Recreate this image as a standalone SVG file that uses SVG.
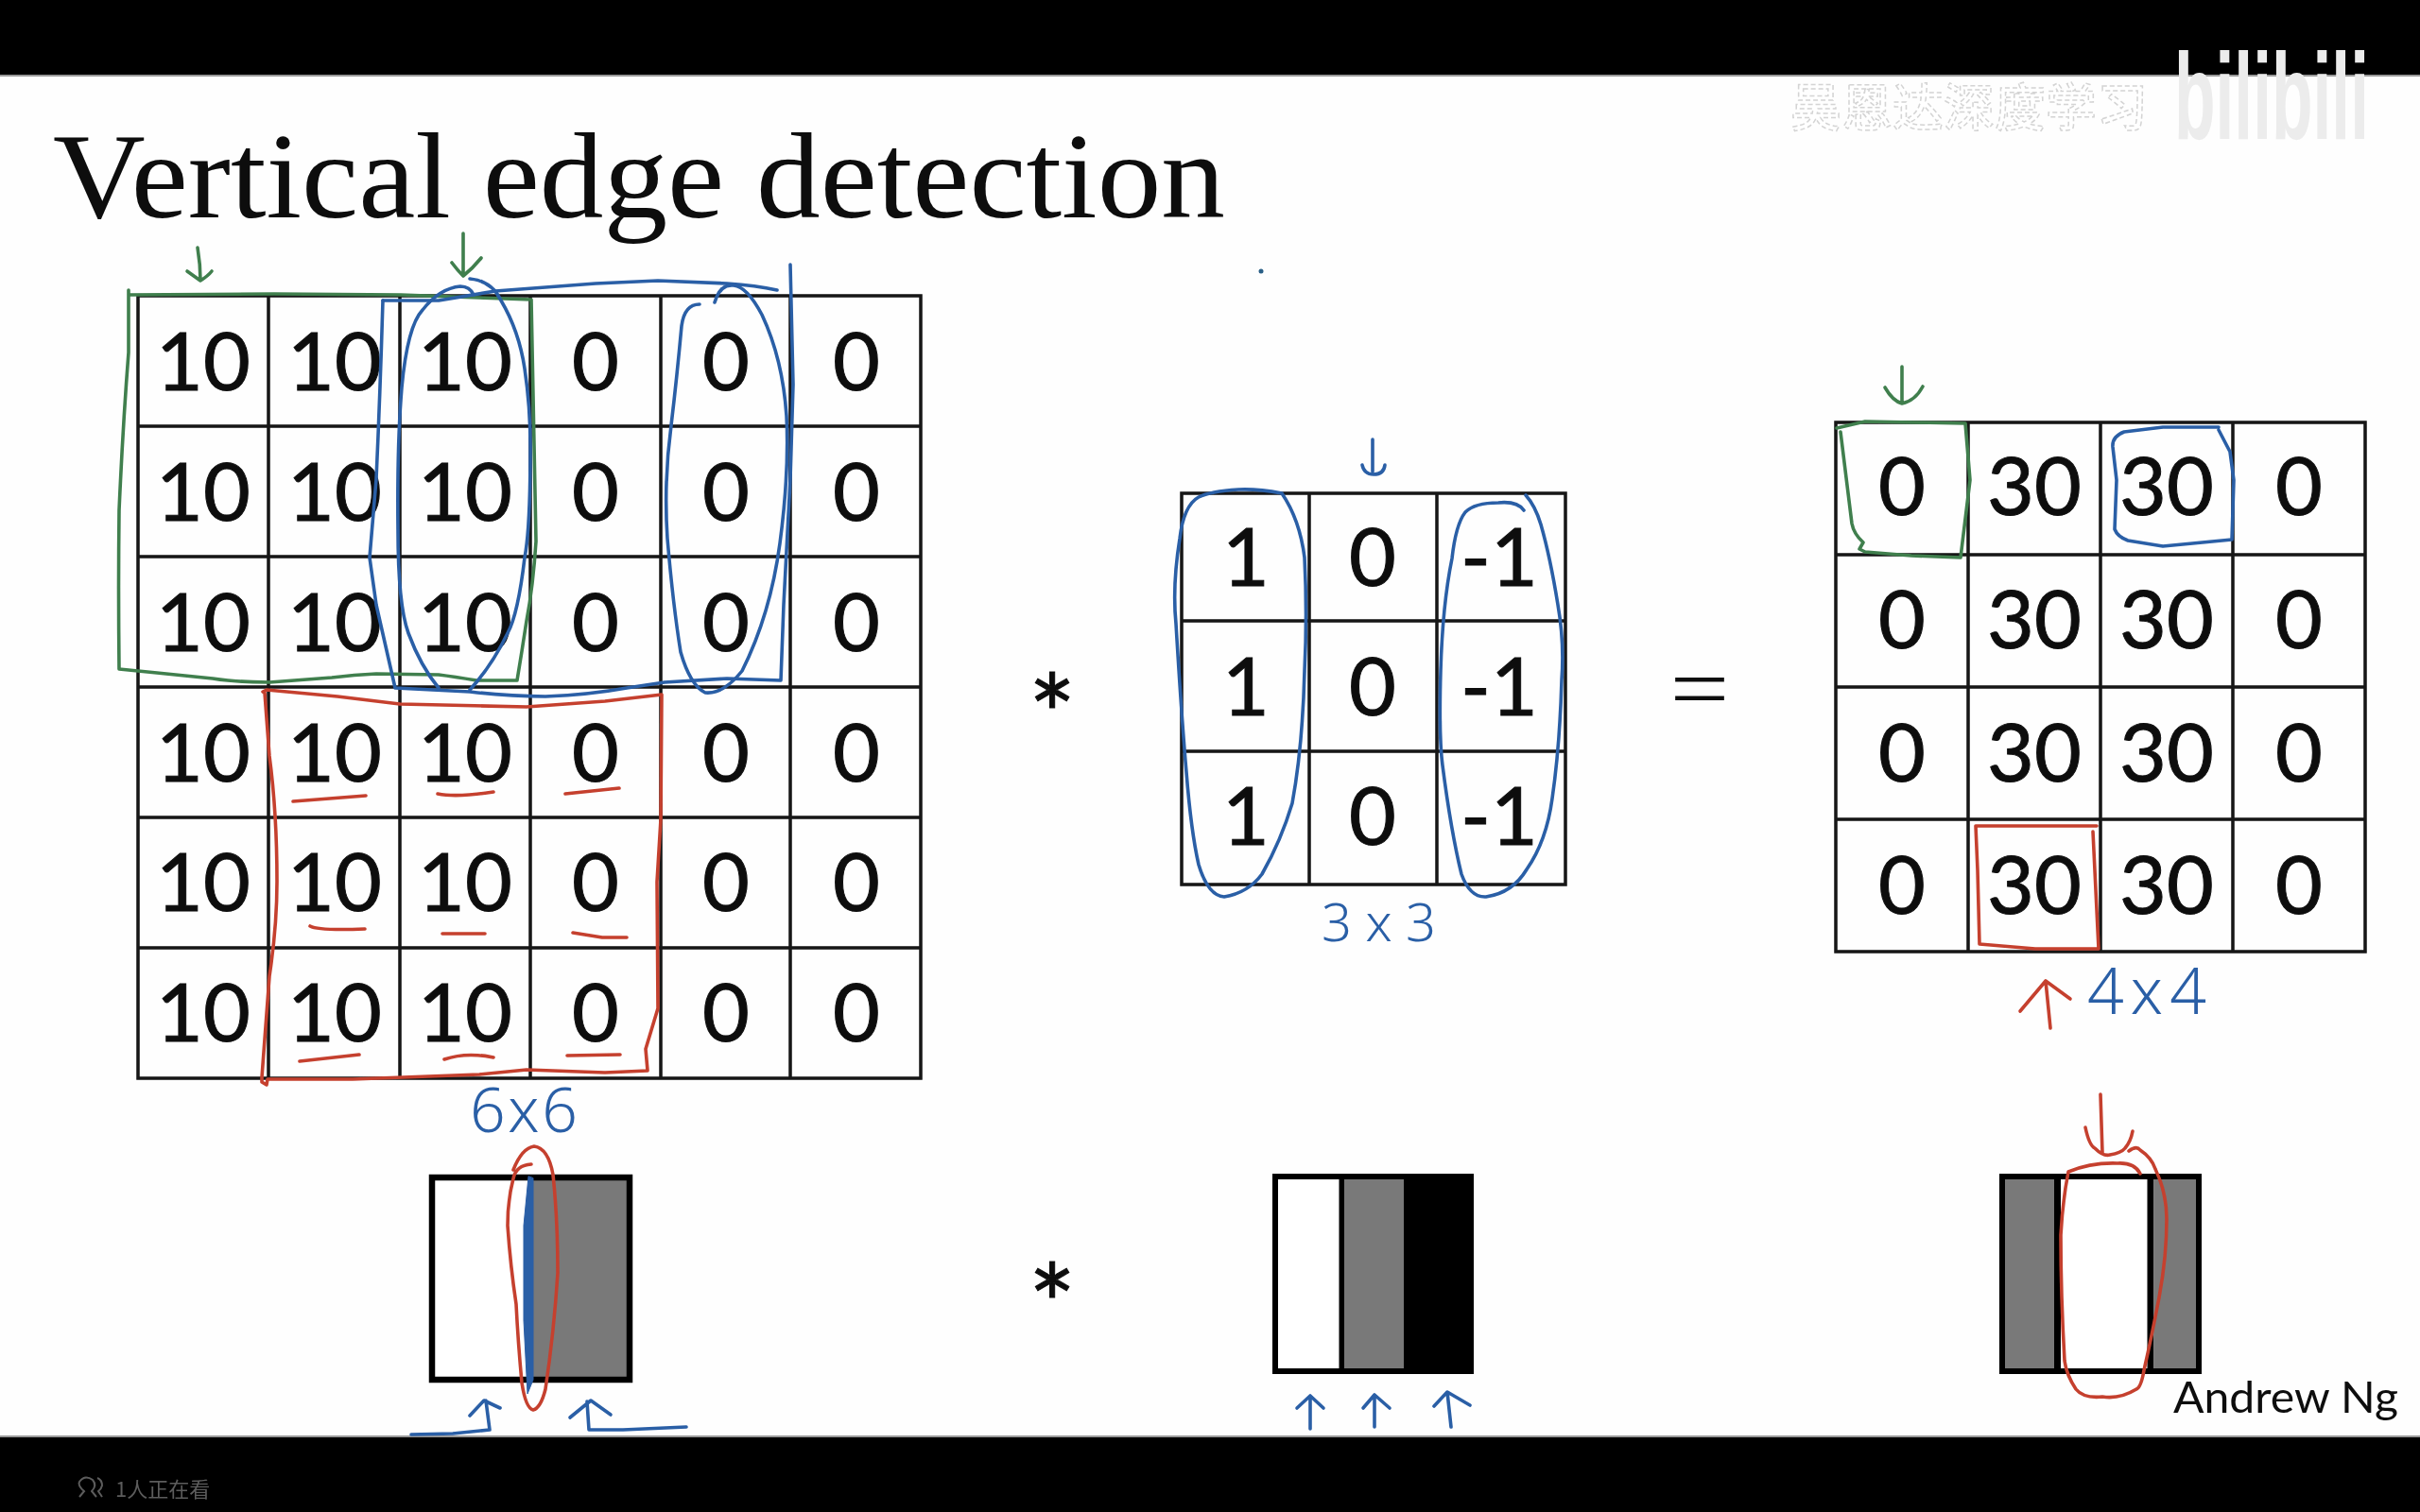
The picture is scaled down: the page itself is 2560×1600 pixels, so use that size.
<svg xmlns="http://www.w3.org/2000/svg" width="2560" height="1600" viewBox="0 0 2560 1600">
<style>
.n{font-family:Lato,"Liberation Sans",sans-serif;font-size:86px;fill:#0a0a0a;stroke:#0a0a0a;stroke-width:1;text-anchor:middle}
.g{fill:none;stroke:#161616;stroke-width:3.5}
.h{fill:none;stroke-width:3.6;stroke-linecap:round;stroke-linejoin:round}
.gr{stroke:#3f7f4e}.bl{stroke:#2a5ea6}.rd{stroke:#c5402f}
.hw{font-family:"Noto Sans",sans-serif;font-weight:300;fill:#2a5ea6;text-anchor:start}
.op{font-family:Lato,sans-serif;fill:#111;text-anchor:middle}
</style>
<defs><filter id="soft" x="0" y="0" width="2560" height="1600" filterUnits="userSpaceOnUse"><feGaussianBlur stdDeviation="0.7"/></filter></defs>
<rect width="2560" height="1600" fill="#fefefe"/>
<g filter="url(#soft)">
<g id="bars">
<rect width="2560" height="80" fill="#000"/>
<rect y="1520" width="2560" height="80" fill="#000"/>
<rect y="79" width="2560" height="2" fill="#999"/>
<rect y="1519" width="2560" height="2" fill="#999"/>
</g>
<g id="watermark">
<text x="1894" y="134" font-family="'Noto Sans CJK SC',sans-serif" font-size="54" font-weight="500" fill="#fff" stroke="#d4d4d4" stroke-width="1.5" stroke-dasharray="5 3">吴恩达深度学习</text>
<text x="2300" y="147" font-family="'Liberation Sans',sans-serif" font-size="130" font-weight="700" fill="#ececec" textLength="206" lengthAdjust="spacingAndGlyphs">bilibili</text>
</g>
<text id="title" x="56" y="230" font-family="'Liberation Serif',serif" font-size="130" fill="#0a0a0a" textLength="1240" lengthAdjust="spacingAndGlyphs">Vertical edge detection</text>
<circle id="dot" cx="1334" cy="287" r="2.5" fill="#2a5e86"/>

<g id="input-matrix">
<path class="g" d="M146,313H974V1141H146ZM146,451H974M146,589H974M146,727H974M146,865H974M146,1003H974M284,313V1141M423,313V1141M561,313V1141M699,313V1141M836,313V1141"/>
<g class="n">
<text x="215" y="413">10</text><text x="354" y="413">10</text><text x="492" y="413">10</text><text x="630" y="413">0</text><text x="768" y="413">0</text><text x="906" y="413">0</text>
<text x="215" y="551">10</text><text x="354" y="551">10</text><text x="492" y="551">10</text><text x="630" y="551">0</text><text x="768" y="551">0</text><text x="906" y="551">0</text>
<text x="215" y="689">10</text><text x="354" y="689">10</text><text x="492" y="689">10</text><text x="630" y="689">0</text><text x="768" y="689">0</text><text x="906" y="689">0</text>
<text x="215" y="827">10</text><text x="354" y="827">10</text><text x="492" y="827">10</text><text x="630" y="827">0</text><text x="768" y="827">0</text><text x="906" y="827">0</text>
<text x="215" y="964">10</text><text x="354" y="964">10</text><text x="492" y="964">10</text><text x="630" y="964">0</text><text x="768" y="964">0</text><text x="906" y="964">0</text>
<text x="215" y="1102">10</text><text x="354" y="1102">10</text><text x="492" y="1102">10</text><text x="630" y="1102">0</text><text x="768" y="1102">0</text><text x="906" y="1102">0</text>
</g>
</g>

<g id="filter-matrix">
<path class="g" d="M1250,522H1656V936H1250ZM1250,657H1656M1250,795H1656M1385,522V936M1520,522V936"/>
<g class="n">
<text x="1318" y="620">1</text><text x="1452" y="620">0</text><text x="1586" y="620">-1</text>
<text x="1318" y="757">1</text><text x="1452" y="757">0</text><text x="1586" y="757">-1</text>
<text x="1318" y="894">1</text><text x="1452" y="894">0</text><text x="1586" y="894">-1</text>
</g>
</g>

<g id="output-matrix">
<path class="g" d="M1942,447H2502V1007H1942ZM1942,587H2502M1942,727H2502M1942,867H2502M2082,447V1007M2222,447V1007M2362,447V1007"/>
<g class="n">
<text x="2012" y="545">0</text><text x="2152" y="545">30</text><text x="2292" y="545">30</text><text x="2432" y="545">0</text>
<text x="2012" y="686">0</text><text x="2152" y="686">30</text><text x="2292" y="686">30</text><text x="2432" y="686">0</text>
<text x="2012" y="827">0</text><text x="2152" y="827">30</text><text x="2292" y="827">30</text><text x="2432" y="827">0</text>
<text x="2012" y="967">0</text><text x="2152" y="967">30</text><text x="2292" y="967">30</text><text x="2432" y="967">0</text>
</g>
</g>

<g id="operators">
<text class="op" x="1113" y="800" font-size="118" stroke="#111" stroke-width="1">*</text>
<text class="op" x="1113" y="1424" font-size="118" stroke="#111" stroke-width="1">*</text>
<text class="op" x="1798" y="771" font-size="125" font-weight="300">=</text>
</g>

<g id="image-input">
<rect x="457" y="1246" width="209" height="214" fill="#fff"/>
<rect x="564" y="1246" width="102" height="214" fill="#797979"/>
<rect x="457" y="1246" width="209" height="214" fill="none" stroke="#000" stroke-width="6.5"/>
</g>
<g id="image-filter">
<rect x="1352" y="1245" width="65" height="206" fill="#fff"/>
<rect x="1422" y="1245" width="63" height="206" fill="#797979"/>
<rect x="1485" y="1245" width="74" height="206" fill="#000"/>
<rect x="1349" y="1245" width="207" height="206" fill="none" stroke="#000" stroke-width="6"/>
<rect x="1416.5" y="1245" width="5.5" height="206" fill="#000"/>
</g>
<g id="image-output">
<rect x="2120" y="1245" width="205" height="206" fill="#797979"/>
<rect x="2173" y="1245" width="106" height="206" fill="#fff"/>
<rect x="2118" y="1245" width="208" height="206" fill="none" stroke="#000" stroke-width="6"/>
<path d="M2176.5,1245V1451M2275,1245V1451" stroke="#000" stroke-width="7"/>
</g>

<text id="credit" x="2299" y="1495" font-family="Lato,sans-serif" font-size="46" fill="#111" textLength="238" lengthAdjust="spacingAndGlyphs">Andrew Ng</text>

<g id="annotations">
<g class="h gr">
<path d="M136,307V312L290,311L424,312L562,317Q565,450 567,573Q564,620 557,657Q552,690 547,720L504,720Q480,716 464,714L398,713Q375,714 351,717L285,722Q250,722 225,718L166,712L126,708Q125,620 126,540Q130,450 136,373Z"/>
<path d="M209,262Q212,280 212,297M198,287Q205,292 212,297Q220,292 224,287"/>
<path d="M490,247V292M478,278Q484,286 490,292Q500,284 509,273"/>
<path d="M1943,453L1973,446L2079,448L2084,508L2074,590L2022,588L1973,584L1967,581L1971,574Q1961,565 1959,554L1947,457"/>
<path d="M2012,388V425M1994,410Q2002,424 2012,427Q2026,424 2034,409"/>
</g>
<g class="h bl">
<path d="M405,318H464L524,308L630,300L696,297L769,300Q800,302 822,307"/>
<path d="M405,318Q402,420 398,507L391,590L398,640L418,728L497,732Q540,737 577,737Q625,735 663,728L703,722L769,718L826,720L829,640L836,507L839,407L836,280"/>
<path d="M497,295Q520,297 530,318Q549,350 555,390Q561,430 561,473Q561,560 555,590Q548,650 537,670Q520,705 497,730"/>
<path d="M464,728Q445,705 432,670Q421,640 421,560Q420,470 425,410Q431,345 447,328Q465,305 487,303Q497,303 501,312"/>
<path d="M740,322Q724,322 721,345Q716,400 710,450Q702,510 706,570Q712,640 720,690Q730,725 746,733Q765,735 785,710Q815,650 825,575Q835,500 832,440Q828,380 806,333Q790,303 776,302Q762,300 756,320"/>
<path d="M1356,522Q1330,517 1310,518Q1280,520 1268,526Q1252,535 1248,570Q1240,620 1244,660Q1250,760 1255,817Q1260,880 1268,915Q1278,948 1295,949Q1320,945 1335,925Q1355,890 1367,850Q1378,790 1380,710Q1383,650 1380,590Q1375,550 1356,522"/>
<path d="M1612,540Q1605,530 1585,532Q1560,532 1550,542Q1540,555 1536,591Q1526,640 1524,710Q1522,780 1526,810Q1535,880 1546,925Q1555,950 1572,949Q1600,945 1615,920Q1636,890 1642,845Q1650,790 1652,720Q1655,680 1648,640Q1640,590 1630,555Q1624,535 1614,524"/>
<path d="M1452,465V499M1441,492Q1443,502 1453,502Q1464,502 1465,492"/>
<path d="M2347,452L2288,452L2247,457Q2234,462 2235,473L2239,508L2237,560Q2240,568 2251,572L2288,578L2361,571L2363,508L2359,478L2347,455"/>
<path d="M559,1245L554,1297V1397L558,1475L564,1460V1247Z" fill="#2a5ea6" stroke-width="1"/>
<path d="M435,1518L479,1517L518,1513L514,1482M497,1498L512,1482L529,1490"/>
<path d="M726,1510L659,1513H623L621,1483M603,1500L625,1482L646,1497"/>
<path d="M1386,1512V1477M1372,1490L1386,1477L1400,1490"/>
<path d="M1454,1510V1476M1442,1490L1454,1476L1470,1490"/>
<path d="M1535,1510L1531,1473M1517,1488L1531,1473L1555,1487"/>
</g>
<g class="h rd">
<path d="M278,732L282,730L357,737L423,745L557,748L640,742L700,735L699,867L695,933L696,1067L683,1110L685,1133L640,1135L557,1132L507,1137L373,1142L283,1142L282,1148L277,1145L277,1140L285,1033Q293,980 293,933Q293,860 285,800L280,733"/>
<path d="M310,848L387,842M463,840Q483,844 522,838M598,840L655,834M328,980Q337,985 386,983M468,988H513M606,987L637,992H663M317,1123L380,1116M470,1121Q493,1113 522,1119M600,1117L656,1116"/>
<path d="M2090,874L2218,874M2214,880L2220,1004L2153,1004L2094,999L2092,921L2090,874"/>
<path d="M2169,1088L2164,1038M2137,1070L2164,1038L2190,1057"/>
<path d="M562,1232Q546,1233 543,1247Q537,1270 537,1297Q540,1340 546,1380Q548,1420 552,1463Q556,1490 564,1492Q572,1490 577,1470Q586,1410 590,1347Q590,1290 585,1243Q580,1215 565,1213Q552,1215 543,1238"/>
<path d="M2222,1158L2224,1220M2206,1193Q2210,1212 2216,1215Q2225,1224 2232,1222Q2244,1220 2248,1215Q2254,1208 2256,1197"/>
<path d="M2252,1218Q2260,1212 2264,1217Q2276,1225 2280,1237Q2292,1262 2292,1290Q2292,1330 2284,1373Q2276,1415 2268,1450Q2265,1468 2260,1470Q2242,1481 2224,1478Q2204,1480 2196,1470Q2186,1455 2184,1440Q2180,1370 2180,1307Q2182,1270 2188,1240Q2212,1230 2240,1231Q2258,1230 2264,1242"/>
</g>
</g>

<g id="dimensions">
<text class="hw" x="497" y="1198" font-size="66" textLength="114" lengthAdjust="spacing">6 x 6</text>
<text class="hw" x="1398" y="996" font-size="56" textLength="121" lengthAdjust="spacing">3 x 3</text>
<text class="hw" x="2208" y="1073" font-size="68" textLength="126" lengthAdjust="spacing">4 x 4</text>
</g>

<g id="viewers">
<path d="M84,1584L89,1578Q82,1572 84,1568Q90,1560 98,1566Q103,1572 97,1578L102,1584M103,1564Q108,1566 108,1572Q107,1576 104,1578L108,1584" fill="none" stroke="#5c5c5c" stroke-width="2"/>
<text x="122" y="1584" font-family="'Noto Sans CJK SC',sans-serif" font-size="22" fill="#5c5c5c">1人正在看</text>
</g>
</g>
</svg>
